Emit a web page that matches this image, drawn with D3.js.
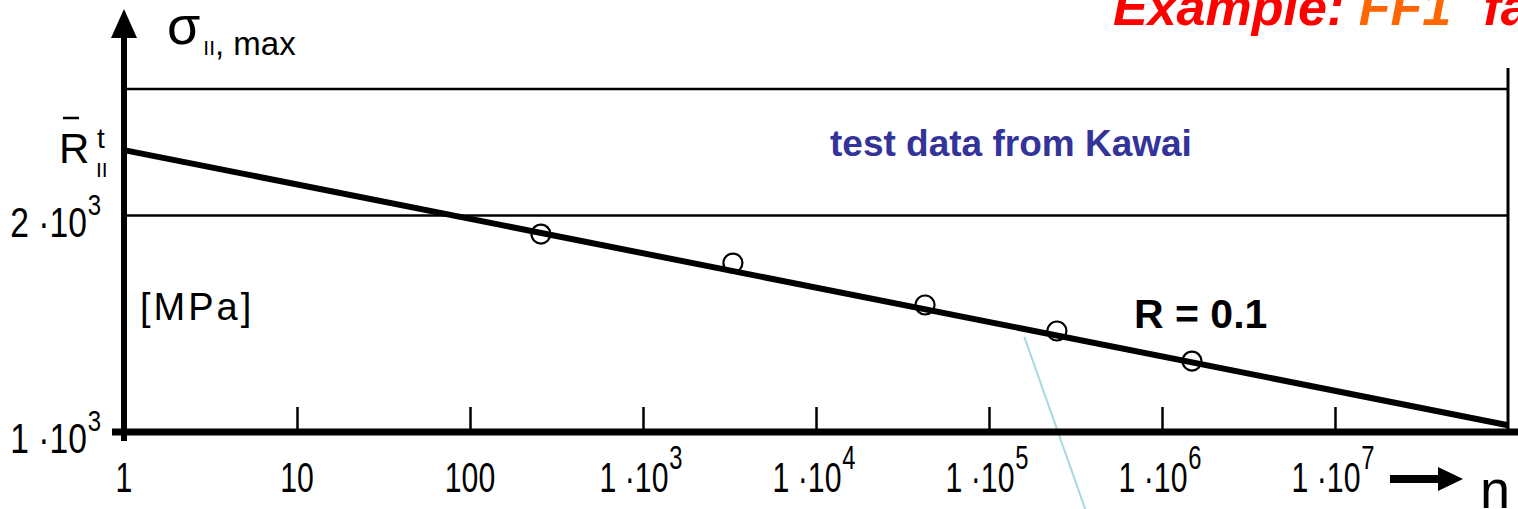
<!DOCTYPE html>
<html><head><meta charset="utf-8">
<script src="https://cdn.jsdelivr.net/npm/d3@7"></script>
<style>body{margin:0;background:#fff;overflow:hidden} svg{display:block}</style>
</head><body><svg id="c" width="1518" height="509"></svg>
<script>
// Data
const cycles = [257, 3310, 42700, 247000, 1.49e6];
const stress = [1885, 1718, 1502, 1382, 1255];
const fitN = [1, 1e8];
const fitS = [2467, 1022];
const xTicks = [1, 10, 100, 1e3, 1e4, 1e5, 1e6, 1e7];
const xTickLabels = ["1", "10", "100", "1 ·10^3", "1 ·10^4", "1 ·10^5", "1 ·10^6", "1 ·10^7"];
const yTicks = [1000, 2000];
const yTickLabels = ["1 ·10^3", "2 ·10^3"];
const gridS = [2000, 3000];
const leaderN = [1.6e5, 3.6e5];
const leaderS = [1356, 781];

const svg = d3.select("#c");
const W = 1518, H = 509;
const x = d3.scaleLog().domain([1, 1e8]).range([124, 1508]);
const y = d3.scaleLog().domain([1000, 3000]).range([432, 89]);
const sans = "'Liberation Sans',Arial,sans-serif";
const SX = 0.72; // horizontal squeeze for the narrow tick-label font

// grid lines
svg.append("g").selectAll("line").data(gridS).join("line")
  .attr("x1", x(1)).attr("x2", x(1e8))
  .attr("y1", d => y(d)).attr("y2", d => y(d))
  .attr("stroke", "#000").attr("stroke-width", 2.5);
// right border
svg.append("line").attr("x1", x(1e8)).attr("x2", x(1e8))
  .attr("y1", y(3000) - 21).attr("y2", y(1000))
  .attr("stroke", "#000").attr("stroke-width", 3);

// leader line
svg.append("line")
  .attr("x1", x(leaderN[0])).attr("y1", y(leaderS[0]))
  .attr("x2", x(leaderN[1])).attr("y2", y(leaderS[1]))
  .attr("stroke", "#a9d9dc").attr("stroke-width", 2);

// circles
svg.append("g").selectAll("circle").data(cycles).join("circle")
  .attr("cx", d => x(d)).attr("cy", (d, i) => y(stress[i])).attr("r", 9.5)
  .attr("fill", "none").attr("stroke", "#000").attr("stroke-width", 2.2);

// fit line
const line = d3.line().x(d => x(d[0])).y(d => y(d[1]));
svg.append("path").datum(fitN.map((n, i) => [n, fitS[i]]))
  .attr("d", line).attr("fill", "none").attr("stroke", "#000").attr("stroke-width", 6);

// x axis ticks
const xAxis = d3.axisBottom(x).tickValues(xTicks).tickSizeInner(-25).tickSizeOuter(0).tickFormat("");
svg.append("g").attr("transform", `translate(0,${y(1000)})`).call(xAxis)
  .call(g => g.select(".domain").remove())
  .call(g => g.selectAll(".tick line").attr("stroke", "#000").attr("stroke-width", 2.5));

// axis lines
svg.append("line").attr("x1", x(1) - 12).attr("x2", W)
  .attr("y1", y(1000)).attr("y2", y(1000)).attr("stroke", "#000").attr("stroke-width", 7);
svg.append("line").attr("x1", x(1)).attr("x2", x(1))
  .attr("y1", y(1000) + 9).attr("y2", 32).attr("stroke", "#000").attr("stroke-width", 6);
svg.append("path").attr("d", `M${x(1)},9 L${x(1) + 13},38 L${x(1) - 13},38 Z`).attr("fill", "#000");

// label helper with superscript
function sup(sel, str, supSize, supDy) {
  const [base, ex] = str.split("^");
  sel.append("tspan").text(base);
  if (ex) sel.append("tspan").attr("font-size", supSize).attr("dx", 1).attr("dy", supDy).text(ex);
}

// x tick labels
xTicks.forEach((t, i) => {
  const tx = svg.append("text")
    .attr("transform", `translate(${x(t) + (i >= 3 ? -2 : 0)},492) scale(${SX},1)`)
    .attr("text-anchor", "middle").attr("font-family", sans).attr("font-size", 42);
  sup(tx, xTickLabels[i], 33, -23);
});
// y tick labels
yTicks.forEach((t, i) => {
  const tx = svg.append("text")
    .attr("transform", `translate(101,${y(t) + 21}) scale(0.8,1)`)
    .attr("text-anchor", "end").attr("font-family", sans).attr("font-size", 42);
  sup(tx, yTickLabels[i], 30, -22);
});

// arrow -> n
svg.append("line").attr("x1", 1390).attr("x2", 1442).attr("y1", 479).attr("y2", 479)
  .attr("stroke", "#000").attr("stroke-width", 8);
svg.append("path").attr("d", "M1438,467 L1463,479 L1438,491 Z").attr("fill", "#000");
svg.append("text").attr("x", 1480).attr("y", 508).attr("font-family", sans)
  .attr("font-size", 54).text("n");

// y axis title sigma
const st = svg.append("text").attr("x", 167).attr("y", 44).attr("font-family", sans);
st.append("tspan").attr("font-size", 54).text("σ");
st.append("tspan").attr("font-size", 21).attr("dx", 3).attr("dy", 11).text("II");
st.append("tspan").attr("font-size", 33).text(", max");

// R bar t II
svg.append("text").attr("x", 59).attr("y", 163).attr("font-family", sans).attr("font-size", 42).text("R");
svg.append("line").attr("x1", 63).attr("x2", 79).attr("y1", 118).attr("y2", 118)
  .attr("stroke", "#000").attr("stroke-width", 2.5);
svg.append("text").attr("x", 97).attr("y", 148).attr("font-family", sans).attr("font-size", 28).text("t");
svg.append("text").attr("x", 96).attr("y", 177).attr("font-family", sans).attr("font-size", 21).text("II");

// [MPa]
svg.append("text").attr("x", 140).attr("y", 320).attr("font-family", sans)
  .attr("font-size", 38).attr("letter-spacing", 3).text("[MPa]");

// annotations
svg.append("text").attr("x", 830).attr("y", 156).attr("font-family", sans).attr("font-weight", "bold")
  .attr("font-size", 37).attr("fill", "#333399").text("test data from Kawai");
svg.append("text").attr("x", 1134).attr("y", 328).attr("font-family", sans).attr("font-weight", "bold")
  .attr("font-size", 41).attr("fill", "#000").text("R = 0.1");

// title
const tt = svg.append("text").attr("x", 1113).attr("y", 25).attr("font-family", sans)
  .attr("font-weight", "bold").attr("font-style", "italic").attr("font-size", 52);
tt.append("tspan").attr("fill", "#ff0000").text("Example: ");
tt.append("tspan").attr("fill", "#ff6600").text("FF1");
tt.append("tspan").attr("fill", "#ff0000").attr("dx", 18).text(" fatigue");
</script></body></html>
